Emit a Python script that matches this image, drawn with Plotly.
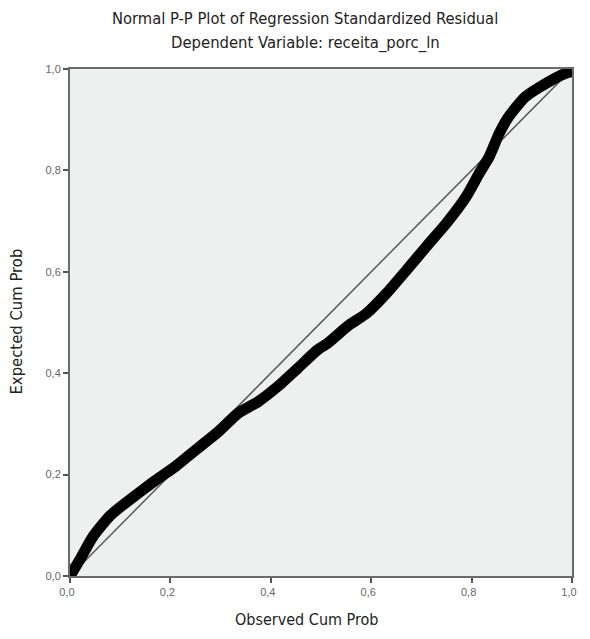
import plotly.graph_objects as go

# Data
observed_cum_prob = [0, 0.02, 0.046, 0.079, 0.099, 0.145, 0.178, 0.21, 0.256, 0.296,
                     0.335, 0.375, 0.414, 0.454, 0.493, 0.513, 0.552, 0.592, 0.631, 0.671,
                     0.71, 0.75, 0.789, 0.815, 0.835, 0.855, 0.874, 0.907, 0.947, 0.986, 1.0]
expected_cum_prob = [0, 0.033, 0.078, 0.118, 0.135, 0.17, 0.194, 0.216, 0.253, 0.285,
                     0.321, 0.344, 0.374, 0.41, 0.446, 0.459, 0.492, 0.519, 0.558, 0.604,
                     0.65, 0.696, 0.748, 0.794, 0.827, 0.873, 0.906, 0.945, 0.971, 0.991, 0.995]
ref_line = [0, 1]
tick_vals = [0, 0.2, 0.4, 0.6, 0.8, 1.0]
tick_text = ["0,0", "0,2", "0,4", "0,6", "0,8", "1,0"]

title_line1 = "Normal P-P Plot of Regression Standardized Residual"
title_line2 = "Dependent Variable: receita_porc_ln"
x_title = "Observed Cum Prob"
y_title = "Expected Cum Prob"

narrow = "DejaVu Sans Condensed, sans-serif"

fig = go.Figure()
fig.add_trace(go.Scatter(x=ref_line, y=ref_line, mode="lines",
                         line=dict(color="#5a5a5a", width=1.5), hoverinfo="skip",
                         showlegend=False))
fig.add_trace(go.Scatter(x=observed_cum_prob, y=expected_cum_prob, mode="lines",
                         line=dict(color="black", width=11, shape="spline", smoothing=0.6),
                         cliponaxis=False, showlegend=False))

axis_common = dict(range=[0, 1], tickvals=tick_vals, ticktext=tick_text,
                   showgrid=False, zeroline=False, showline=True, mirror=True,
                   linecolor="#6b6b6b", linewidth=2, ticks="outside", ticklen=5,
                   tickwidth=1.5, tickcolor="#555555",
                   tickfont=dict(family="Liberation Sans, Arial, sans-serif", size=11,
                                 color="#666666"))

fig.update_layout(
    width=574, height=623,
    margin=dict(l=62, r=5, t=61, b=54.5),
    paper_bgcolor="white",
    plot_bgcolor="#eef0ef",
    xaxis=dict(**axis_common, ticklabelshift=-3),
    yaxis=dict(**axis_common),
    annotations=[
        dict(text=title_line1, x=0.469, y=1.1005, xref="paper", yref="paper",
             xanchor="center", yanchor="middle", showarrow=False,
             font=dict(family=narrow, size=16.4, color="#222222")),
        dict(text=title_line2, x=0.469, y=1.0512, xref="paper", yref="paper",
             xanchor="center", yanchor="middle", showarrow=False,
             font=dict(family=narrow, size=16.5, color="#222222")),
        dict(text=x_title, x=0.473, y=-0.0857, xref="paper", yref="paper",
             xanchor="center", yanchor="middle", showarrow=False,
             font=dict(family=narrow, size=16, color="#222222")),
        dict(text=y_title, x=-0.1065, y=0.501, xref="paper", yref="paper",
             xanchor="center", yanchor="middle", showarrow=False, textangle=-90,
             font=dict(family=narrow, size=16.5, color="#222222")),
    ],
)

fig.write_html("out.html", config={"displayModeBar": False})
